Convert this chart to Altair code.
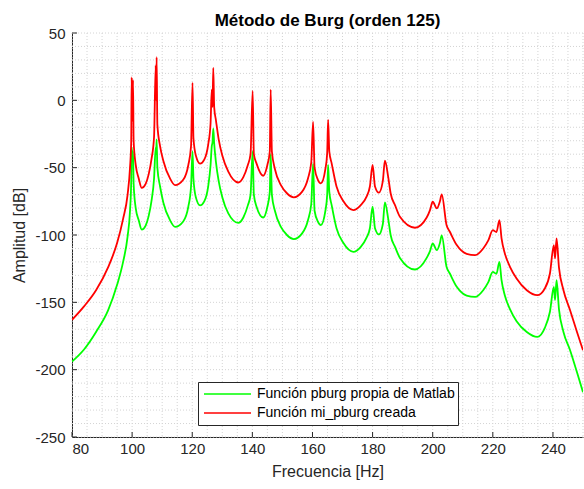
import altair as alt
import pandas as pd

# ---------------- data ----------------
freq = [80, 84, 88, 92, 95, 97, 98.5, 99.3, 99.7, 99.85, 100.05, 100.3, 100.5, 101.2, 102.2, 103.2,
        104.5, 105.5, 106.5, 107.3, 107.85, 108.0, 108.15, 108.4, 109.3, 110.4, 112.6, 114.3, 117.0,
        118.7, 119.6, 120.1, 120.4, 121.2, 122.6, 124.0, 125.3, 126.1, 126.5, 126.75, 127.0, 127.3,
        127.9, 128.8, 130.0, 132.0, 135.3, 137.0, 138.5, 139.4, 140.1, 140.5, 141.4, 143.6, 145.0,
        145.8, 146.1, 146.5, 147.5, 149.5, 151.5, 153.8, 156.5, 158.5, 159.6, 160.2, 160.7, 161.8,
        162.8, 164.3, 164.9, 165.2, 165.6, 166.4, 168.0, 170.3, 173.6, 176.0, 178.0, 179.1, 180.0,
        180.8, 182.1, 183.4, 184.1, 185.2, 186.0, 187.5, 189.1, 194.1, 198.0, 199.1, 200.0, 201.4,
        202.4, 203.0, 204.6, 205.7, 208.0, 211.3, 214.1, 216.8, 218.5, 220.0, 221.2, 222.2, 222.9,
        224.0, 225.7, 227.9, 231.3, 234.8, 237.3, 239.0, 240.3, 240.7, 241.2, 242.0, 243.5, 245.7,
        248.0, 250.0]

pburg_matlab = [-194, -185, -172, -156, -137, -120, -101, -82, -60, -35, -42, -38, -62, -80, -89, -96,
                -93, -86, -74, -58, -35, -40, -29, -50, -64, -76, -89, -94, -90,
                -79, -64, -38, -58, -72, -78, -75, -64, -48, -34, -31, -21, -32,
                -46, -60, -72, -84, -91, -87, -78, -70, -38, -70, -79, -87, -79,
                -68, -40, -70, -82, -94, -100, -103, -99, -89, -77, -47, -82, -90,
                -92.6, -82, -70, -48, -68, -78, -95, -106, -112.5, -109, -102, -95, -79,
                -95, -99.6, -92, -75.8, -88, -100, -109, -117, -125.6, -117, -112, -106.3, -111.2,
                -106, -100.3, -123.6, -128.6, -138.5, -145, -146, -141, -135, -127.4, -128.8, -119.9, -133.6,
                -145, -155, -164, -172, -175.7, -169, -157, -138.5, -148.4, -133.6, -155, -172, -185.6,
                -202, -216.7]

mi_pburg = [-163, -153, -141, -124, -106, -88, -70, -50, -30, 17, -15, 15, -30, -48, -58, -65,
            -62, -55, -43, -27, 26, 0, 32, -18, -34, -45, -58, -63, -59,
            -48, -34, 13, -28, -41, -47, -44, -33, -17, 8, -5, 24, -5,
            -15, -29, -41, -53, -61, -57, -48, -40, 7, -40, -47, -56, -48,
            -38, 8, -38, -51, -63, -69, -72, -68, -58, -46, -16, -50, -59,
            -61.6, -51, -39, -14.5, -38, -47, -64, -75, -81.5, -78, -71.5, -64, -48,
            -64, -68.6, -60, -44.8, -57, -69, -78, -86.5, -94.6, -87, -81.5, -75.3, -80.2,
            -75, -69.8, -92.6, -97.6, -107.5, -114, -115, -110, -104, -96.4, -97.8, -88.9, -102.5,
            -113.7, -123.6, -132.3, -141, -144.7, -139.7, -128.6, -107.5, -117.4, -102.5, -124, -141, -155.9,
            -172, -185.6]

series_names = ["Función pburg propia de Matlab", "Función mi_pburg creada"]
series_colors = ["#00ff00", "#ff0000"]

x_ticks = [80, 100, 120, 140, 160, 180, 200, 220, 240]
y_ticks = [-250, -200, -150, -100, -50, 0, 50]
x_grid = list(range(80, 251, 5))
y_grid = list(range(-250, 51, 10))

# ---------------- build table ----------------
rows = []
for name, vals in zip(series_names, [pburg_matlab, mi_pburg]):
    for f, v in zip(freq, vals):
        rows.append({"freq": f, "db": v, "serie": name})
df = pd.DataFrame(rows)

W, H = 511, 404
FONT = "Liberation Sans"
DARK = "#262626"

xs = alt.Scale(domain=[80, 250], nice=False, zero=False)
ys = alt.Scale(domain=[-250, 50], nice=False, zero=False)

x_axis = alt.Axis(title="Frecuencia [Hz]", values=x_ticks, grid=False, ticks=False,
                  labelExpr="'' + datum.value",
                  labelPadding=4, titlePadding=7, domainColor=DARK, labelColor=DARK,
                  titleColor=DARK, labelFontSize=15, titleFontSize=16,
                  titleFontWeight="normal", labelFont=FONT, titleFont=FONT)
y_axis = alt.Axis(title="Amplitud [dB]", values=y_ticks, grid=False, ticks=False,
                  labelExpr="'' + datum.value",
                  labelPadding=7, titlePadding=7, domainColor=DARK, labelColor=DARK,
                  titleColor=DARK, labelFontSize=15, titleFontSize=16,
                  titleFontWeight="normal", labelFont=FONT, titleFont=FONT)

grid_style = dict(color="#d4d4d4", strokeDash=[1, 2], strokeWidth=1)

grid_x = alt.Chart(pd.DataFrame({"gx": x_grid})).mark_rule(**grid_style).encode(
    x=alt.X("gx:Q", scale=xs, axis=x_axis))
grid_y = alt.Chart(pd.DataFrame({"gy": y_grid})).mark_rule(**grid_style).encode(
    y=alt.Y("gy:Q", scale=ys, axis=y_axis))

lines = alt.Chart(df).mark_line(interpolate="monotone", strokeWidth=1.8, clip=True).encode(
    x=alt.X("freq:Q", scale=xs, axis=x_axis),
    y=alt.Y("db:Q", scale=ys, axis=y_axis),
    color=alt.Color("serie:N", scale=alt.Scale(domain=series_names, range=series_colors),
                    legend=alt.Legend(title=None, orient="none", legendX=126, legendY=349,
                                      direction="vertical", symbolType="stroke",
                                      symbolSize=2209, symbolStrokeWidth=1.6, clipHeight=18,
                                      rowPadding=1, padding=3, symbolOffset=2, labelOffset=5,
                                      labelFontSize=14, labelFont=FONT, labelColor="#000000",
                                      labelLimit=400, strokeColor=DARK, fillColor="white")),
)

tick_x = alt.Chart(pd.DataFrame({"tx": x_ticks})).mark_rule(color=DARK, strokeWidth=1).encode(
    x=alt.X("tx:Q", scale=xs, axis=x_axis), y=alt.value(H - 5), y2=alt.value(H))
tick_y = alt.Chart(pd.DataFrame({"ty": y_ticks})).mark_rule(color=DARK, strokeWidth=1).encode(
    y=alt.Y("ty:Q", scale=ys, axis=y_axis), x=alt.value(0), x2=alt.value(5))

chart = alt.layer(grid_x, grid_y, lines, tick_x, tick_y).properties(
    width=W, height=H,
    title=alt.Title("Método de Burg (orden 125)", font=FONT, fontSize=17, fontWeight="bold",
                    color="#000000", anchor="middle", frame="group", baseline="alphabetic",
                    offset=7, dy=24),
    padding={"left": 72, "top": 33, "right": 1, "bottom": 52},
    autosize=alt.AutoSizeParams(type="none"),
    background="white",
).configure_view(stroke=None)

chart.save("out.html", embed_options={"renderer": "svg", "actions": False})
